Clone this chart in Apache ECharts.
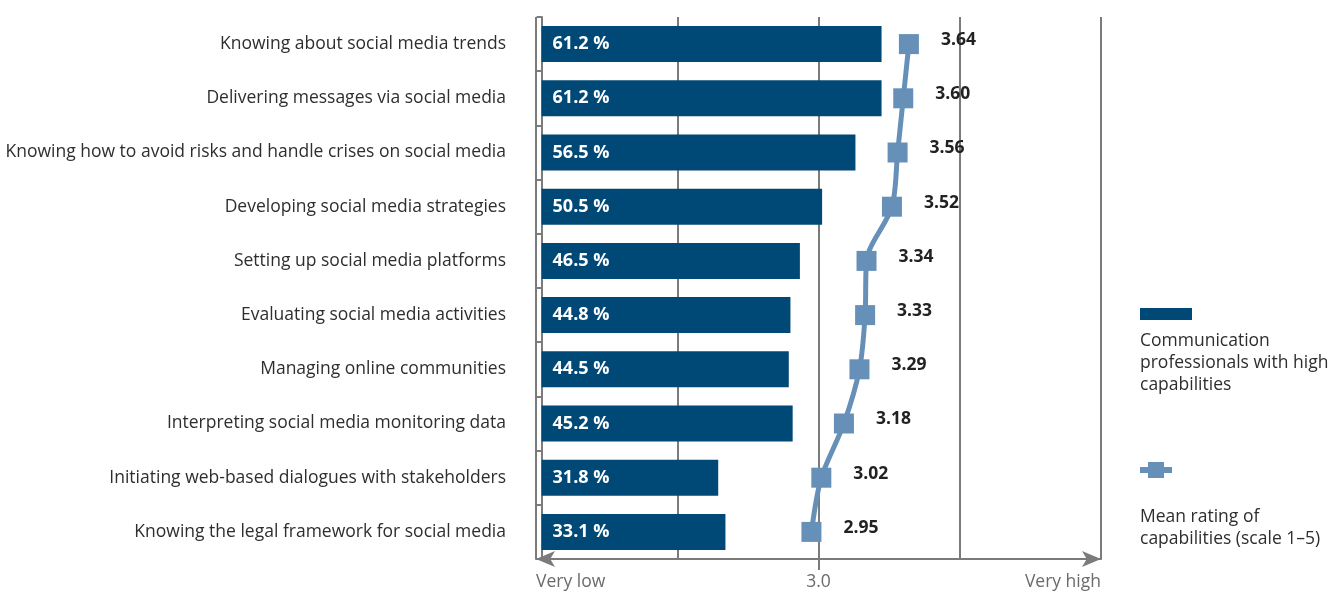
<!DOCTYPE html>
<html>
<head>
<meta charset="utf-8">
<script src="https://cdn.jsdelivr.net/npm/echarts@6/dist/echarts.min.js"></script>
<style>
  html, body { margin: 0; padding: 0; background: #ffffff; }
  #chart { width: 1341px; height: 596px; }
</style>
</head>
<body>
<div id="chart"></div>
<script>
const categories = [
  'Knowing about social media trends',
  'Delivering messages via social media',
  'Knowing how to avoid risks and handle crises on social media',
  'Developing social media strategies',
  'Setting up social media platforms',
  'Evaluating social media activities',
  'Managing online communities',
  'Interpreting social media monitoring data',
  'Initiating web-based dialogues with stakeholders',
  'Knowing the legal framework for social media'
];
const highCapabilityShare = [61.2, 61.2, 56.5, 50.5, 46.5, 44.8, 44.5, 45.2, 31.8, 33.1];
const meanRating = [3.64, 3.60, 3.56, 3.52, 3.34, 3.33, 3.29, 3.18, 3.02, 2.95];
const ratingTickLabels = { 1: 'Very low', 3: '3.0', 5: 'Very high' };
const seriesNames = ['Communication professionals with high capabilities', 'Mean rating of capabilities (scale 1–5)'];

const FONT = 'Open Sans';
const BAR_COLOR = '#004876';
const LINE_COLOR = '#6690b8';
const AXIS_COLOR = '#7b7b7b';

const chart = echarts.init(document.getElementById('chart'), null, { renderer: 'canvas' });

const option = {
  backgroundColor: '#ffffff',
  animation: false,
  textStyle: { fontFamily: FONT },
  grid: { left: 536, right: 240, top: 17, bottom: 37, containLabel: false },
  xAxis: [
    {
      type: 'value', min: 1, max: 5, interval: 1, position: 'bottom',
      axisLine: { show: true, symbol: ['arrow', 'arrow'], symbolSize: [12, 19],
        lineStyle: { color: AXIS_COLOR, width: 2 } },
      axisTick: { show: false },
      axisLabel: { show: false },
      splitLine: { show: true, lineStyle: { color: AXIS_COLOR, width: 2 } }
    },
    {
      type: 'value', min: -1, max: 100.7, position: 'bottom', show: false,
      splitLine: { show: false }
    },
    {
      type: 'value', min: 1, max: 5, interval: 1, position: 'bottom',
      axisLine: { show: false },
      axisTick: { show: true, customValues: [3], length: 11, lineStyle: { color: AXIS_COLOR, width: 2 } },
      axisLabel: {
        show: true, customValues: [1, 3, 5], margin: 14,
        fontFamily: FONT, fontSize: 17.5, color: '#6b6b6b',
        alignMinLabel: 'left', alignMaxLabel: 'right',
        formatter: v => ratingTickLabels[v] || ''
      },
      splitLine: { show: false }
    }
  ],
  yAxis: {
    type: 'category', data: categories, inverse: true,
    axisLine: { show: true, lineStyle: { color: AXIS_COLOR, width: 2 } },
    axisTick: { show: true, length: 5, lineStyle: { color: AXIS_COLOR, width: 2 } },
    axisLabel: { margin: 30, fontFamily: FONT, fontSize: 17.5, color: '#2e2e2e' },
    splitLine: { show: false }
  },
  series: [
    {
      name: seriesNames[0], type: 'bar', xAxisIndex: 1, yAxisIndex: 0,
      data: highCapabilityShare, barWidth: 36,
      itemStyle: { color: BAR_COLOR },
      label: {
        show: true, position: 'insideLeft', distance: 11,
        color: '#ffffff', fontFamily: FONT, fontWeight: 'bold', fontSize: 18,
        formatter: p => p.value.toFixed(1) + ' %'
      },
      z: 2
    },
    {
      name: seriesNames[1], type: 'line', xAxisIndex: 0, yAxisIndex: 0,
      data: meanRating, smooth: 0.3,
      symbol: 'rect', symbolSize: 20,
      lineStyle: { color: LINE_COLOR, width: 5 },
      itemStyle: { color: LINE_COLOR },
      label: {
        show: true, position: 'right', distance: 22, offset: [0, -4],
        color: '#222222', fontFamily: FONT, fontWeight: 'bold', fontSize: 17.5,
        formatter: p => p.value.toFixed(2)
      },
      z: 3
    }
  ],
  graphic: [
    { type: 'rect', left: 1140, top: 308, shape: { width: 52, height: 12 }, style: { fill: BAR_COLOR } },
    { type: 'text', left: 1140, top: 330,
      style: { text: 'Communication\nprofessionals with high\ncapabilities', font: '17.5px "Open Sans"', fill: '#2e2e2e', lineHeight: 22 } },
    { type: 'line', shape: { x1: 1140, y1: 470, x2: 1172, y2: 470 }, style: { stroke: LINE_COLOR, lineWidth: 6 } },
    { type: 'rect', shape: { x: 1148, y: 462, width: 16, height: 16 }, style: { fill: LINE_COLOR } },
    { type: 'text', left: 1140, top: 506,
      style: { text: 'Mean rating of\ncapabilities (scale 1–5)', font: '17.5px "Open Sans"', fill: '#2e2e2e', lineHeight: 22 } }
  ]
};
chart.setOption(option);
</script>
</body>
</html>
